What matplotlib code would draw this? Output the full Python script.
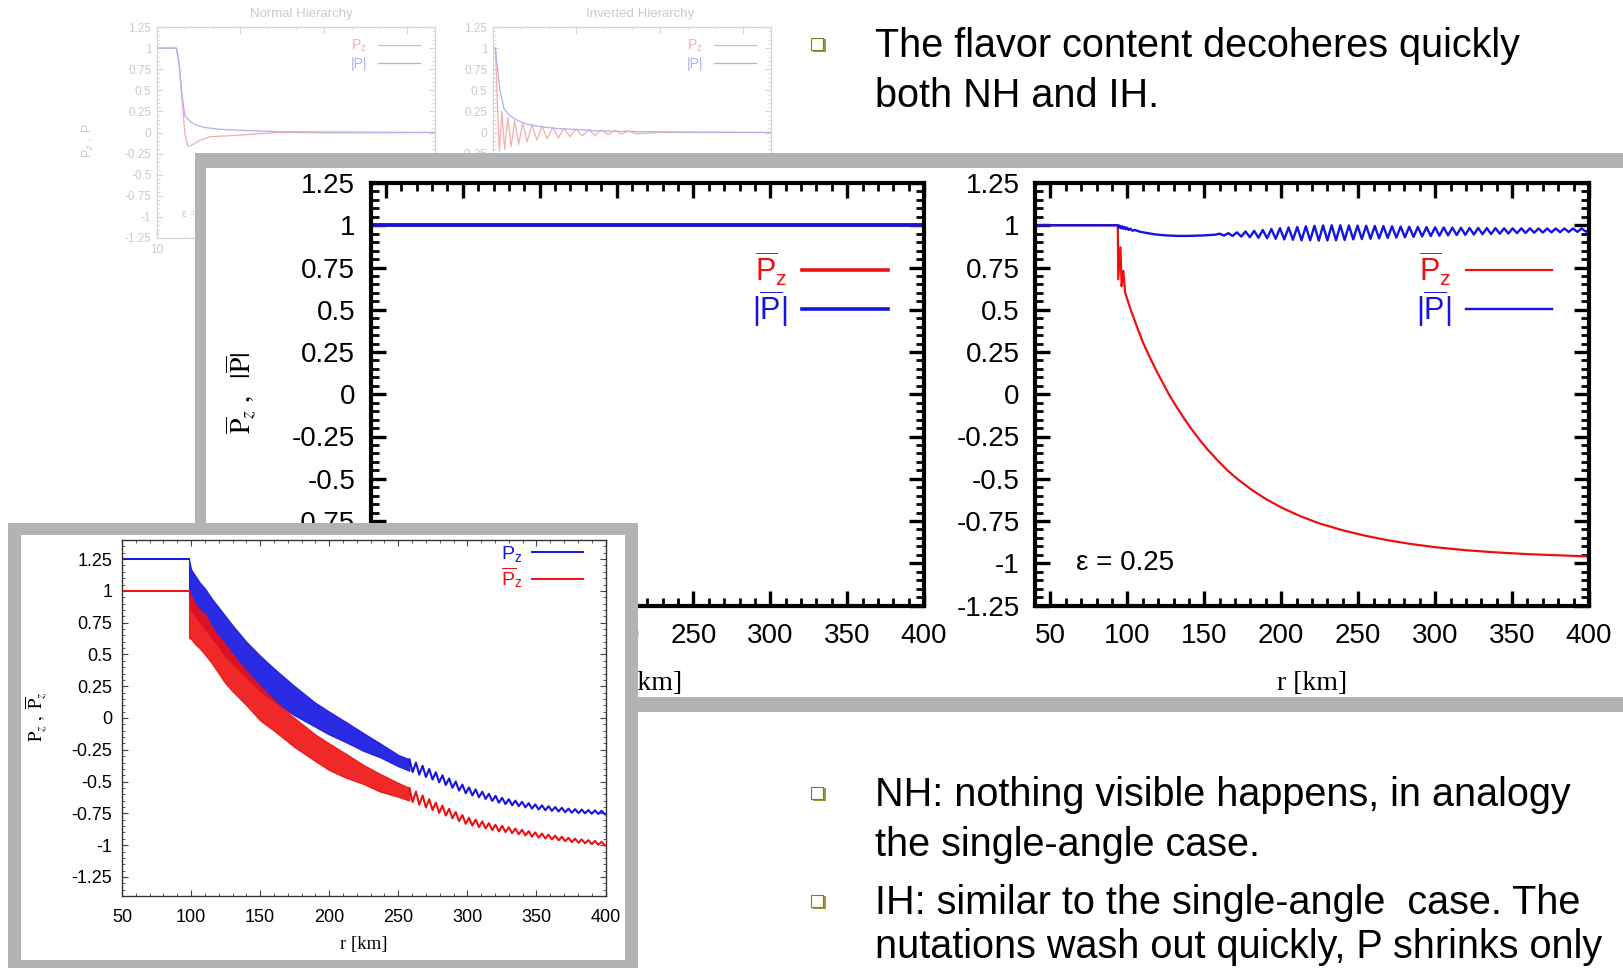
import matplotlib
matplotlib.use('Agg')
import matplotlib.pyplot as plt
from matplotlib.patches import Rectangle
from matplotlib.ticker import MultipleLocator

plt.rcParams['font.family'] = ['Liberation Sans', 'DejaVu Sans']
plt.rcParams['mathtext.fontset'] = 'custom'
plt.rcParams['mathtext.rm'] = 'Liberation Sans'
plt.rcParams['mathtext.sf'] = 'Liberation Sans'
plt.rcParams['mathtext.it'] = 'Liberation Sans:italic'
plt.rcParams['mathtext.bf'] = 'Liberation Sans:bold'

# ---------------- data ----------------
main_xticks = [50, 100, 150, 200, 250, 300, 350, 400]
main_xticklabels = ['50', '100', '150', '200', '250', '300', '350', '400']
main_yticks = [1.25, 1.0, 0.75, 0.5, 0.25, 0.0, -0.25, -0.5, -0.75, -1.0, -1.25]
main_yticklabels = ['1.25', '1', '0.75', '0.5', '0.25', '0', '-0.25', '-0.5', '-0.75', '-1', '-1.25']

# Normal hierarchy (main left panel)
nh_r = [40, 400]
nh_pz_bar = [1.0, 1.0]
nh_p_bar = [1.0, 1.0]

# Inverted hierarchy (main right panel)
ih_r = [40, 93.8, 94.1, 95.5, 96.3, 97.4, 98.6, 100, 103, 106, 110, 114, 118, 122, 127, 132, 137, 142,
        147, 152, 158, 165, 172, 180, 190, 200, 212, 225, 240, 255, 270, 285, 300, 320, 340, 360, 380, 400]
ih_pz_bar = [1.0, 1.0, 0.68, 0.87, 0.64, 0.73, 0.60, 0.56, 0.48, 0.405, 0.31, 0.23, 0.155, 0.085, 0.0,
             -0.075, -0.145, -0.21, -0.27, -0.325, -0.385, -0.45, -0.505, -0.56, -0.62, -0.67, -0.72,
             -0.765, -0.805, -0.838, -0.865, -0.887, -0.905, -0.923, -0.936, -0.946, -0.953, -0.96]
ih_p_r_start = [40, 93.8, 94.3, 95.0, 95.8, 96.6, 97.4, 98.2, 99.0, 99.9, 100.9, 102, 103.2, 105,
                108, 112, 118, 125, 132, 140, 150, 157]
ih_p_start = [1.0, 1.0, 0.985, 0.998, 0.982, 0.994, 0.979, 0.99, 0.976, 0.986, 0.972, 0.98, 0.968, 0.972,
              0.962, 0.955, 0.946, 0.940, 0.937, 0.937, 0.940, 0.944]
ih_p_r_osc = [160.0, 162.8, 165.6, 168.4, 171.2, 174.0, 176.8, 179.6, 182.4, 185.2, 188.0, 190.8, 193.6,
              196.4, 199.2, 202.0, 204.8, 207.6, 210.4, 213.2, 216.0, 218.8, 221.6, 224.4, 227.2, 230.0,
              232.8, 235.6, 238.4, 241.2, 244.0, 246.8, 249.6, 252.4, 255.2, 258.0, 260.8, 263.6, 266.4,
              269.2, 272.0, 274.8, 277.6, 280.4, 283.2, 286.0, 288.8, 291.6, 294.4, 297.2, 300.0, 302.8,
              305.6, 308.4, 311.2, 314.0, 316.8, 319.6, 322.4, 325.2, 328.0, 330.8, 333.6, 336.4, 339.2,
              342.0, 344.8, 347.6, 350.4, 353.2, 356.0, 358.8, 361.6, 364.4, 367.2, 370.0, 372.8, 375.6,
              378.4, 381.2, 384.0, 386.8, 389.6, 392.4, 395.2, 398.0, 400.0]
ih_p_osc = [0.950, 0.939, 0.953, 0.937, 0.958, 0.933, 0.963, 0.929, 0.967, 0.926, 0.972, 0.923, 0.978,
            0.920, 0.983, 0.916, 0.987, 0.914, 0.990, 0.911, 0.994, 0.911, 0.997, 0.909, 0.999, 0.910,
            1.000, 0.911, 1.000, 0.913, 0.999, 0.916, 0.998, 0.918, 0.997, 0.920, 0.996, 0.922, 0.995,
            0.925, 0.994, 0.927, 0.992, 0.929, 0.991, 0.931, 0.990, 0.934, 0.989, 0.936, 0.988, 0.938,
            0.987, 0.940, 0.986, 0.942, 0.985, 0.943, 0.984, 0.945, 0.984, 0.947, 0.983, 0.948, 0.983,
            0.950, 0.982, 0.951, 0.982, 0.953, 0.982, 0.954, 0.982, 0.956, 0.981, 0.957, 0.981, 0.958,
            0.981, 0.959, 0.981, 0.960, 0.981, 0.961, 0.981, 0.962, 0.972]

# Single-angle inset
sa_flat_r = [50, 98.5]
sa_pz_flat = [1.25, 1.25]
sa_pzb_flat = [1.0, 1.0]
sa_band_r = [98.5, 100, 103, 106, 110, 115, 120, 125, 130, 140, 150, 160, 175, 190, 200, 212, 225, 237, 250, 258]
sa_pz_hi = [1.25, 1.17, 1.12, 1.07, 1.02, 0.94, 0.87, 0.80, 0.73, 0.60, 0.49, 0.39, 0.25, 0.12, 0.05,
            -0.03, -0.12, -0.20, -0.29, -0.325]
sa_pz_lo = [0.95, 0.85, 0.80, 0.76, 0.70, 0.63, 0.56, 0.48, 0.43, 0.32, 0.21, 0.13, 0.02, -0.07, -0.13,
            -0.19, -0.26, -0.31, -0.38, -0.415]
sa_pzb_hi = [1.0, 0.96, 0.90, 0.85, 0.82, 0.72, 0.64, 0.58, 0.50, 0.37, 0.25, 0.14, 0.0, -0.13, -0.20,
             -0.28, -0.37, -0.44, -0.51, -0.55]
sa_pzb_lo = [0.63, 0.62, 0.58, 0.55, 0.50, 0.43, 0.35, 0.27, 0.21, 0.10, -0.02, -0.10, -0.23, -0.34, -0.41,
             -0.47, -0.52, -0.58, -0.62, -0.65]
sa_tail_r = [258.0, 260.4, 262.8, 265.2, 267.6, 270.0, 272.4, 274.8, 277.2, 279.6, 282.0, 284.4, 286.8,
             289.2, 291.6, 294.0, 296.4, 298.8, 301.2, 303.6, 306.0, 308.4, 310.8, 313.2, 315.6, 318.0,
             320.4, 322.8, 325.2, 327.6, 330.0, 332.4, 334.8, 337.2, 339.6, 342.0, 344.4, 346.8, 349.2,
             351.6, 354.0, 356.4, 358.8, 361.2, 363.6, 366.0, 368.4, 370.8, 373.2, 375.6, 378.0, 380.4,
             382.8, 385.2, 387.6, 390.0, 392.4, 394.8, 397.2, 399.6]
sa_pz_tail = [-0.325, -0.425, -0.351, -0.445, -0.376, -0.464, -0.401, -0.484, -0.427, -0.506, -0.451,
              -0.527, -0.475, -0.549, -0.500, -0.571, -0.524, -0.592, -0.546, -0.609, -0.562, -0.623,
              -0.580, -0.637, -0.596, -0.652, -0.612, -0.666, -0.628, -0.677, -0.639, -0.686, -0.650,
              -0.694, -0.659, -0.703, -0.670, -0.712, -0.680, -0.720, -0.687, -0.725, -0.694, -0.730,
              -0.700, -0.735, -0.706, -0.741, -0.713, -0.745, -0.717, -0.748, -0.720, -0.750, -0.724,
              -0.753, -0.727, -0.755, -0.730, -0.758]
sa_pzb_tail = [-0.550, -0.661, -0.579, -0.682, -0.609, -0.703, -0.639, -0.724, -0.666, -0.746, -0.690,
               -0.767, -0.714, -0.789, -0.740, -0.811, -0.764, -0.832, -0.785, -0.846, -0.799, -0.858,
               -0.813, -0.869, -0.827, -0.881, -0.840, -0.892, -0.848, -0.897, -0.859, -0.906, -0.870,
               -0.914, -0.879, -0.923, -0.890, -0.933, -0.900, -0.941, -0.909, -0.947, -0.917, -0.955,
               -0.926, -0.962, -0.934, -0.969, -0.942, -0.976, -0.949, -0.981, -0.955, -0.986, -0.961,
               -0.992, -0.967, -0.997, -0.974, -1.003]

# Faded background panels (earlier slide)
fade_nh_r_red = [10, 17, 18, 19, 20, 21, 22.5, 25, 29, 35, 40, 53, 70, 110]
fade_nh_pz = [1, 1, 0.8, 0.4, 0.0, -0.16, -0.15, -0.1, -0.05, -0.04, -0.03, 0.0, -0.005, 0]
fade_nh_r_blue = [10, 17, 18, 19, 20, 22, 24, 27, 32, 40, 55, 80, 110]
fade_nh_p = [1, 1, 0.8, 0.45, 0.2, 0.13, 0.09, 0.06, 0.04, 0.025, 0.01, 0.005, 0.0]
fade_ih_r_blue = [10, 10.8, 11.5, 12.5, 14, 16, 19, 22, 27, 32, 40, 47, 62, 80, 110]
fade_ih_p = [1, 1, 0.8, 0.5, 0.28, 0.2, 0.14, 0.1, 0.07, 0.05, 0.035, 0.02, 0.01, 0.005, 0]
fade_ih_r_red = [10, 10.9, 11.6, 12.3, 13.2, 14.2, 15.3, 16.5, 17.8, 19.2, 20.7, 22.3, 24.0, 25.8, 27.6,
                 29.5, 31.5, 33.5, 35.6, 37.7, 39.9, 42.1, 44.4, 46.7, 49.0, 51.4, 53.8, 56.2, 58.7, 61.2, 70, 110]
fade_ih_pz = [1, 1, 0.3, -0.22, 0.25, -0.2, 0.18, -0.17, 0.14, -0.14, 0.11, -0.11, 0.09, -0.09, 0.075,
              -0.075, 0.06, -0.06, 0.05, -0.05, 0.04, -0.04, 0.035, -0.035, 0.03, -0.025, 0.025, -0.02,
              0.02, -0.015, 0.0, 0.0]

bullets = [
    ("The flavor content decoheres quickly", 57, True),
    ("both NH and IH.", 107, False),
    ("NH: nothing visible happens, in analogy", 806, True),
    ("the single-angle case.", 856, False),
    ("IH: similar to the single-angle  case. The", 914, True),
    ("nutations wash out quickly, P shrinks only", 958, False),
]

# ---------------- figure ----------------
W, H = 1623, 968
fig = plt.figure(figsize=(W / 100, H / 100), dpi=100)
fig.patch.set_facecolor('white')


def box(l, t, r, b):
    return [l / W, 1 - b / H, (r - l) / W, (b - t) / H]


def fxy(x, y):
    return x / W, 1 - y / H


RED = '#ee1010'
BLUE = '#1414e0'
GREY = '#b3b3b3'
FADE_AX = '#d4d4d4'
FADE_TXT = '#cacaca'
FADE_RED = '#f5adad'
FADE_BLUE = '#b0b0f0'

# ---- faded panels ----
fade_ticks = [1.25, 1.0, 0.75, 0.5, 0.25, 0.0, -0.25, -0.5, -0.75, -1.0, -1.25]
fade_labels = ['1.25', '1', '0.75', '0.5', '0.25', '0', '-0.25', '-0.5', '-0.75', '-1', '-1.25']
fade_axes = []
for (l, r, title, tx) in [(157, 435, 'Normal Hierarchy', 301), (493, 771, 'Inverted Hierarchy', 640)]:
    fa = fig.add_axes(box(l, 27, r, 238))
    fa.set_zorder(0)
    fa.set_xlim(10, 110)
    fa.set_ylim(-1.25, 1.25)
    fa.set_yticks(fade_ticks)
    fa.set_yticklabels(fade_labels)
    fa.set_xticks([10, 40, 70, 100])
    fa.set_xticklabels(['10', '', '', ''])
    fa.xaxis.set_minor_locator(MultipleLocator(10))
    fa.yaxis.set_minor_locator(MultipleLocator(0.05))
    for s in fa.spines.values():
        s.set_color(FADE_AX)
        s.set_linewidth(0.9)
    fa.tick_params(which='both', direction='in', top=True, right=True, color=FADE_AX,
                   labelcolor=FADE_TXT, labelsize=8.5, pad=4)
    fa.tick_params(which='major', length=4, width=0.8)
    fa.tick_params(which='minor', length=2, width=0.6)
    fig.text(*fxy(tx, 14), title, ha='center', va='center', fontsize=9.5, color=FADE_TXT, zorder=0.5)
    fade_axes.append(fa)

fnh, fih = fade_axes
l1, = fnh.plot(fade_nh_r_red, fade_nh_pz, color=FADE_RED, lw=0.9, label=r'$\mathsf{P}_{\mathsf{z}}$')
l2, = fnh.plot(fade_nh_r_blue, fade_nh_p, color=FADE_BLUE, lw=0.9, label='|P|')
fnh.legend(handles=[l1, l2], loc='upper right', bbox_to_anchor=(0.945, 0.95), frameon=False,
           markerfirst=False, fontsize=10, handlelength=3.0, labelcolor='linecolor',
           borderpad=0, borderaxespad=0, labelspacing=0.2)
fnh.text(0.09, 0.1, 'ε = 0.25', transform=fnh.transAxes, fontsize=8, color=FADE_TXT)
l3, = fih.plot(fade_ih_r_red, fade_ih_pz, color=FADE_RED, lw=0.9, label=r'$\mathsf{P}_{\mathsf{z}}$')
l4, = fih.plot(fade_ih_r_blue, fade_ih_p, color=FADE_BLUE, lw=0.9, label='|P|')
fih.legend(handles=[l3, l4], loc='upper right', bbox_to_anchor=(0.945, 0.95), frameon=False,
           markerfirst=False, fontsize=10, handlelength=3.0, labelcolor='linecolor',
           borderpad=0, borderaxespad=0, labelspacing=0.2)
fig.text(*fxy(88, 140), r'$\mathrm{P}_z\ ,\ \mathrm{P}$', rotation=90, ha='center', va='center',
         fontsize=9, color=FADE_TXT, zorder=0.5)

# ---- main frame ----
fig.add_artist(Rectangle((195 / W, 1 - 712 / H), 2.0, (712 - 153) / H, transform=fig.transFigure,
                         facecolor=GREY, edgecolor='none', zorder=1))
fig.add_artist(Rectangle((206 / W, 1 - 697 / H), 2.0, (697 - 168) / H, transform=fig.transFigure,
                         facecolor='white', edgecolor='none', zorder=1.1))


def style_main(ax):
    ax.set_zorder(2)
    ax.set_xlim(40, 400)
    ax.set_ylim(-1.25, 1.25)
    ax.set_xticks(main_xticks)
    ax.set_xticklabels(main_xticklabels)
    ax.set_yticks(main_yticks)
    ax.set_yticklabels(main_yticklabels)
    ax.xaxis.set_minor_locator(MultipleLocator(10))
    ax.yaxis.set_minor_locator(MultipleLocator(0.05))
    for s in ax.spines.values():
        s.set_linewidth(3.0)
        s.set_color('black')
    ax.tick_params(which='both', direction='in', top=True, right=True, labelsize=20, pad=11)
    ax.tick_params(axis='x', pad=12.5)
    ax.tick_params(which='major', length=11, width=2.4)
    ax.tick_params(which='minor', length=5.5, width=2.0)


leg_kw = dict(loc='upper right', frameon=False, markerfirst=False, fontsize=22, handlelength=2.8,
              handletextpad=0.5, labelcolor='linecolor', borderpad=0, borderaxespad=0, labelspacing=0.0)

axL = fig.add_axes(box(370.5, 183, 924, 605.5))
style_main(axL)
lr, = axL.plot(nh_r, nh_pz_bar, color=RED, lw=2.6, label=r'$\overline{\mathsf{P}}_{\mathsf{z}}$')
lb, = axL.plot(nh_r, nh_p_bar, color=BLUE, lw=2.6, label=r'$|\overline{\mathsf{P}}|$')
axL.legend(handles=[lr, lb], bbox_to_anchor=(0.935, 0.843), **leg_kw)

axR = fig.add_axes(box(1035, 183, 1589, 605.5))
style_main(axR)
rr, = axR.plot(ih_r, ih_pz_bar, color=RED, lw=1.6, label=r'$\overline{\mathsf{P}}_{\mathsf{z}}$')
rb, = axR.plot(ih_p_r_start + ih_p_r_osc, ih_p_start + ih_p_osc, color=BLUE, lw=1.7,
               label=r'$|\overline{\mathsf{P}}|$')
axR.legend(handles=[rr, rb], bbox_to_anchor=(0.933, 0.843), **leg_kw)
axR.text(0.074, 0.10, 'ε = 0.25', transform=axR.transAxes, fontsize=20, va='center', ha='left')

fig.text(*fxy(1312, 684), 'r [km]', ha='center', va='center', fontsize=20,
         family=['Liberation Serif', 'DejaVu Serif'], zorder=2.5)
fig.text(*fxy(647, 684), 'r [km]', ha='center', va='center', fontsize=20,
         family=['Liberation Serif', 'DejaVu Serif'], zorder=2.5)
fig.text(*fxy(241, 393), r'$\overline{\mathrm{P}}_z\ ,\ \ |\overline{\mathrm{P}}|$', rotation=90,
         ha='center', va='center', fontsize=20, math_fontfamily='stix', zorder=2.5)

# ---- inset frame ----
fig.add_artist(Rectangle((8 / W, -0.1), (638 - 8) / W, 1 - 523 / H + 0.1, transform=fig.transFigure,
                         facecolor=GREY, edgecolor='none', zorder=3))
fig.add_artist(Rectangle((21 / W, 1 - 960 / H), (625 - 21) / W, (960 - 535) / H, transform=fig.transFigure,
                         facecolor='white', edgecolor='none', zorder=3.1))

axI = fig.add_axes(box(122, 540, 605.5, 896))
axI.set_zorder(4)
axI.set_xlim(50, 400)
axI.set_ylim(-1.4, 1.4)
axI.set_xticks(main_xticks)
axI.set_xticklabels(main_xticklabels)
axI.set_yticks(main_yticks)
axI.set_yticklabels(main_yticklabels)
axI.xaxis.set_minor_locator(MultipleLocator(10))
axI.yaxis.set_minor_locator(MultipleLocator(0.05))
for s in axI.spines.values():
    s.set_linewidth(1.0)
    s.set_color('#333333')
axI.tick_params(which='both', direction='in', top=True, right=True, labelsize=13, pad=7, color='#444444')
axI.tick_params(axis='x', pad=9)
axI.tick_params(which='major', length=4.5, width=0.8)
axI.tick_params(which='minor', length=2.2, width=0.6)

ib, = axI.plot(sa_flat_r, sa_pz_flat, color=BLUE, lw=1.4, label=r'$\mathsf{P}_{\mathsf{z}}$')
axI.fill_between(sa_band_r, sa_pz_lo, sa_pz_hi, color=BLUE, lw=0.8, alpha=0.9)
axI.plot(sa_tail_r, sa_pz_tail, color=BLUE, lw=1.5)
ir, = axI.plot(sa_flat_r, sa_pzb_flat, color=RED, lw=1.4, label=r'$\overline{\mathsf{P}}_{\mathsf{z}}$')
axI.fill_between(sa_band_r, sa_pzb_lo, sa_pzb_hi, color=RED, lw=0.8, alpha=0.9)
axI.plot(sa_tail_r, sa_pzb_tail, color=RED, lw=1.5)
axI.legend(handles=[ib, ir], loc='upper right', bbox_to_anchor=(0.953, 0.99), frameon=False,
           markerfirst=False, fontsize=14, handlelength=2.6, handletextpad=0.5,
           labelcolor='linecolor', borderpad=0, borderaxespad=0, labelspacing=0.1)

fig.text(*fxy(364, 944), 'r [km]', ha='center', va='center', fontsize=13.5,
         family=['Liberation Serif', 'DejaVu Serif'], zorder=4.5)
fig.text(*fxy(37, 717), r'$\mathrm{P}_z\ ,\ \overline{\mathrm{P}}_z$', rotation=90,
         ha='center', va='center', fontsize=13.5, math_fontfamily='stix', zorder=4.5)

# ---- bullet text ----
for txt, base, has_bullet in bullets:
    fig.text(*fxy(875, base), txt, ha='left', va='baseline', fontsize=28.5, zorder=5)
    if has_bullet:
        cx, cy = 818, base - 13
        fig.add_artist(Rectangle(((cx - 5) / W, 1 - (cy + 8) / H), 13 / W, 13 / H, transform=fig.transFigure,
                                 facecolor='#9a9a30', edgecolor='none', zorder=5))
        fig.add_artist(Rectangle(((cx - 7) / W, 1 - (cy + 6) / H), 12 / W, 12 / H, transform=fig.transFigure,
                                 facecolor='white', edgecolor='#7d7d20', lw=0.8, zorder=5.1))

fig.savefig('out.png', dpi=100)
